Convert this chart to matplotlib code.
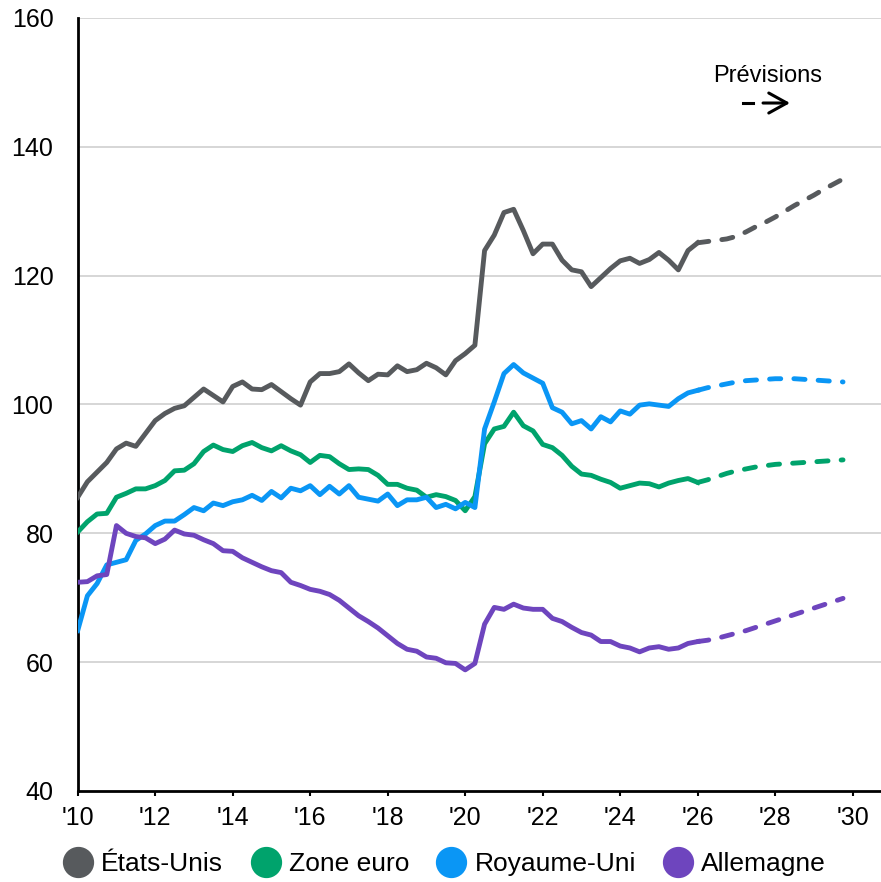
import numpy as np
import matplotlib
matplotlib.use("Agg")
from matplotlib import pyplot as plt
from matplotlib.lines import Line2D

plt.rcParams['font.family'] = ['Liberation Sans', 'DejaVu Sans']

# quarterly, 2010 Q1 .. 2026 Q1 (observed), then forecast to 2029 Q4
years_obs = 2010 + np.arange(65) / 4
years_fc = 2026 + np.arange(16) / 4

us_obs = [85.6, 88.0, 89.5, 91.0, 93.1, 94.0, 93.5, 95.5, 97.5, 98.6, 99.4, 99.8,
          101.1, 102.4, 101.4, 100.4, 102.8, 103.5, 102.4, 102.3, 103.1, 102.0, 100.9, 99.9,
          103.5, 104.8, 104.8, 105.1, 106.3, 104.9, 103.7, 104.7, 104.6, 106.0, 105.1, 105.4,
          106.4, 105.7, 104.6, 106.8, 107.9, 109.2, 123.9, 126.3, 129.8, 130.3, 127.0, 123.4,
          124.9, 124.9, 122.4, 120.9, 120.6, 118.3, 119.7, 121.1, 122.3, 122.7, 121.9, 122.5,
          123.6, 122.4, 120.9, 123.9, 125.1]
ez_obs = [80.2, 81.8, 83.0, 83.1, 85.6, 86.2, 86.9, 86.9, 87.4, 88.2, 89.7, 89.8,
          90.8, 92.7, 93.7, 93.0, 92.7, 93.6, 94.1, 93.3, 92.8, 93.6, 92.8, 92.2,
          91.0, 92.1, 91.9, 90.8, 89.9, 90.0, 89.9, 89.0, 87.6, 87.6, 87.0, 86.7,
          85.6, 86.0, 85.7, 85.1, 83.5, 85.7, 93.9, 96.2, 96.6, 98.8, 96.7, 95.9,
          93.8, 93.3, 92.1, 90.4, 89.2, 89.0, 88.4, 87.9, 87.0, 87.4, 87.8, 87.7,
          87.2, 87.8, 88.2, 88.5, 87.9]
uk_obs = [64.9, 70.3, 72.2, 75.1, 75.5, 75.9, 78.9, 79.9, 81.2, 81.9, 81.9, 82.9,
          84.0, 83.5, 84.7, 84.3, 84.9, 85.2, 85.9, 85.1, 86.5, 85.5, 87.0, 86.6,
          87.4, 86.0, 87.3, 86.1, 87.4, 85.6, 85.3, 85.0, 86.1, 84.3, 85.2, 85.2,
          85.6, 84.0, 84.5, 83.8, 84.8, 84.0, 96.2, 100.4, 104.8, 106.2, 104.9, 104.1,
          103.3, 99.5, 98.8, 97.0, 97.5, 96.2, 98.1, 97.3, 99.0, 98.5, 99.9, 100.1,
          99.9, 99.7, 100.9, 101.8, 102.2]
de_obs = [72.4, 72.5, 73.4, 73.6, 81.2, 80.0, 79.5, 79.3, 78.4, 79.1, 80.5, 79.9,
          79.7, 79.0, 78.4, 77.3, 77.2, 76.2, 75.5, 74.8, 74.2, 73.9, 72.4, 71.9,
          71.3, 71.0, 70.5, 69.6, 68.4, 67.2, 66.3, 65.3, 64.1, 62.9, 62.0, 61.7,
          60.8, 60.6, 59.9, 59.8, 58.8, 59.8, 65.9, 68.5, 68.2, 69.0, 68.4, 68.2,
          68.2, 66.8, 66.3, 65.4, 64.6, 64.2, 63.2, 63.2, 62.5, 62.2, 61.6, 62.2,
          62.4, 62.0, 62.2, 62.9, 63.2]

us_fc = [125.1, 125.3, 125.5, 125.7, 126.1, 126.8, 127.6, 128.3,
         129.1, 130.0, 130.9, 131.7, 132.5, 133.4, 134.2, 135.0]
ez_fc = [87.9, 88.3, 88.8, 89.3, 89.7, 90.0, 90.3, 90.5,
         90.7, 90.8, 90.9, 91.0, 91.1, 91.2, 91.3, 91.4]
uk_fc = [102.2, 102.6, 102.9, 103.2, 103.5, 103.7, 103.8, 103.9,
         104.0, 104.0, 104.0, 103.9, 103.8, 103.7, 103.6, 103.5]
de_fc = [63.2, 63.4, 63.7, 64.1, 64.5, 64.9, 65.4, 65.9,
         66.4, 66.9, 67.4, 67.9, 68.4, 68.9, 69.4, 69.9]

names = ["États-Unis", "Zone euro", "Royaume-Uni", "Allemagne"]
colors = ["#575a5d", "#00a36c", "#0a96f5", "#6e45be"]
obs = [us_obs, ez_obs, uk_obs, de_obs]
fc = [us_fc, ez_fc, uk_fc, de_fc]

fig = plt.figure(figsize=(8.81, 8.82), dpi=100)
ax = fig.add_axes([0.0882, 0.1032, 0.9118, 0.8764])

for y in range(60, 161, 20):
    ax.axhline(y, color="#cfcfcf", lw=1.2, zorder=0)

for o, f, c in zip(obs, fc, colors):
    ax.plot(years_obs, o, color=c, lw=3.5, solid_joinstyle="round", zorder=3)
    ax.plot(years_fc, f, color=c, lw=3.5, ls=(0, (2.3, 2.7)),
            dash_capstyle="round", zorder=3)

ax.set_xlim(2010, 2030.73)
ax.set_ylim(40, 160)
ax.set_xticks(range(2010, 2031, 2))
ax.set_xticklabels(["'%02d" % (y % 100) for y in range(2010, 2031, 2)])
ax.set_yticks(range(40, 161, 20))
ax.tick_params(axis="y", length=0, pad=17.5, labelsize=18)
ax.tick_params(axis="x", length=3.6, width=1.5, pad=7, labelsize=18)
for s in ["top", "right"]:
    ax.spines[s].set_visible(False)
for s in ["left", "bottom"]:
    ax.spines[s].set_linewidth(2)
    ax.spines[s].set_color("black")

# forecast label with a dashed arrow
ax.text(2027.81, 150.0, "Prévisions", fontsize=17, ha="center", va="baseline")
fig.add_artist(Line2D([0.8434, 0.8547], [0.8832, 0.8832], lw=2.2, color="black"))
ax.annotate("", xy=(0.8967, 0.8832), xycoords="figure fraction",
            xytext=(0.8661, 0.8832), textcoords="figure fraction",
            arrowprops=dict(arrowstyle="->,head_length=1.3,head_width=0.72",
                            lw=2.2, color="black", shrinkA=0, shrinkB=0))

handles = [Line2D([], [], marker="o", ls="", color=c, markersize=21.5) for c in colors]
fig.legend(handles, names, loc="center", bbox_to_anchor=(0.5057, 0.0204), ncol=4,
           frameon=False, fontsize=19, handletextpad=0.38, columnspacing=1.1,
           handlelength=1.0, borderaxespad=0, borderpad=0)

fig.savefig("out.png", dpi=100)
